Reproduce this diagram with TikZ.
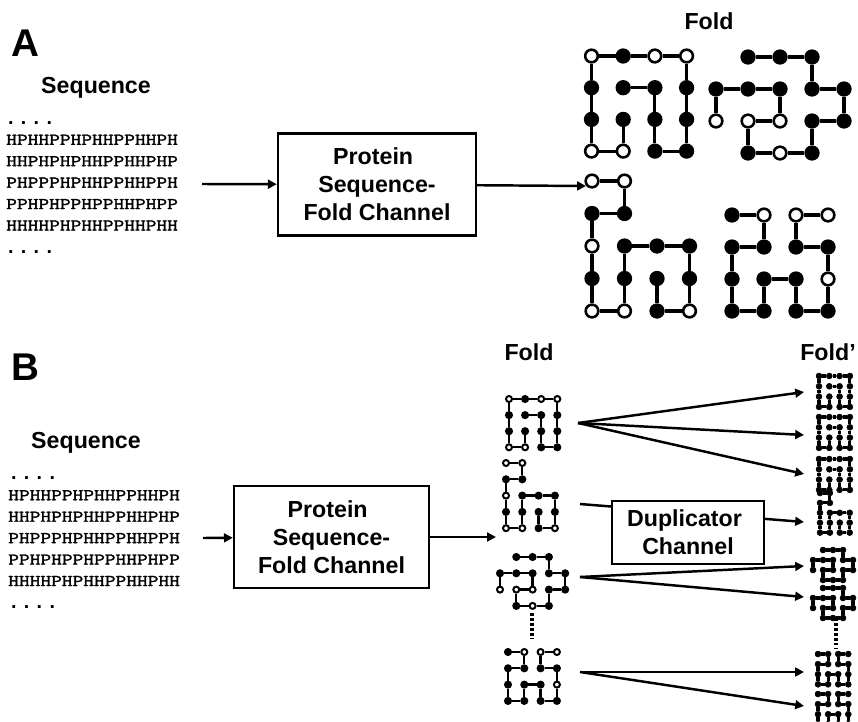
\documentclass[tikz,border=0pt]{standalone}
\usepackage{fontspec}
\setmainfont{Liberation Sans}
\setmonofont[FakeStretch=1.27, FakeBold=2]{Latin Modern Mono}
\usetikzlibrary{arrows.meta}

% one protein chain on the lattice: name, look, x, y, unit, bead list
\newcommand{\foldchain}[6]{
\begin{scope}[#2]
\foreach \gx/\gy/\kind [count=\i, remember=\i as \last (initially 0)] in #6 {
\node[\kind] (#1\i) at (#3+\gx*#5, #4+\gy*#5) {};
\ifnum\i>1
\draw[chainedge] (#1\last) -- (#1\i);
\fi
}
\end{scope}
}

\def\chainone{1/2/bk,1/3/wh,0/3/wh,0/2/bk,0/1/bk,0/0/wh,1/0/bk,2/0/wh,3/0/wh,3/1/bk,3/2/bk,3/3/bk,2/3/bk,2/2/bk,2/1/bk,1/1/bk}
\def\chaintwo{0/2/wh,0/1/bk,1/1/bk,2/1/bk,2/2/wh,1/2/wh,1/3/bk,2/3/wh,3/3/bk,3/2/bk,4/2/bk,4/1/bk,3/1/bk,3/0/bk,2/0/bk,1/0/bk}
\def\chainthree{0/0/wh,1/0/wh,1/1/bk,0/1/bk,0/2/wh,0/3/bk,0/4/wh,1/4/wh,1/3/bk,1/2/bk,2/2/bk,3/2/bk,3/3/bk,3/4/wh,2/4/bk,2/3/bk}
\def\chainfour{0/0/bk,1/0/wh,1/1/bk,0/1/bk,0/2/bk,0/3/bk,1/3/bk,1/2/bk,2/2/bk,2/3/bk,3/3/bk,3/2/wh,3/1/bk,2/1/bk,2/0/wh,3/0/wh}

\begin{document}
\begin{tikzpicture}[x=0.03cm, y=-0.03cm, >={Triangle[length=7.5pt,width=7.5pt]},
bk/.style={circle, draw=black, fill=black, inner sep=0pt, beadsize},
wh/.style={circle, draw=black, fill=white, inner sep=0pt, beadsize},
bigfold/.style={chainedge/.style={line width=2.6pt}, beadsize/.style={minimum size=0.38cm, line width=2.2pt}},
midfold/.style={chainedge/.style={line width=2pt}, beadsize/.style={minimum size=0.18cm, line width=1.7pt}},
tinyfold/.style={chainedge/.style={line width=2.6pt}, wh/.style={bk}, beadsize/.style={minimum size=0.18cm, line width=0.4pt}},
panel/.style={font=\bfseries\fontsize{33}{38}\selectfont},
heading/.style={font=\bfseries\fontsize{19.8}{24}\selectfont},
channel/.style={draw=black, line width=2.1pt, fill=white, align=center, inner sep=0pt,
  font=\bfseries\fontsize{19.8}{24}\selectfont},
seqlines/.style={align=left, inner sep=0pt, anchor=north west,
  font=\ttfamily\fontsize{14}{18.3}\selectfont},
seqdots/.style={inner sep=0pt, anchor=base west, font=\bfseries\fontsize{16.8}{20}\selectfont},
flow/.style={->, black, line width=2.1pt},
chaindots/.style={black, line width=2.6pt, dash pattern=on 2.4pt off 1.8pt}]

\useasboundingbox (0,0) rectangle (858,722);

%% Panel A
\path
(25,43) node[panel](labelA) {A}
(96,88) node[heading](seqA) {Sequence}
(709,21) node[heading](foldA) {Fold}
(8,124) node[seqdots](dotsAtop) {. . . .}
(6,134.5) node[seqlines](linesA) {HPHHPPHPHHPPHHPH\\HHPHPHPHHPPHHPHP\\PHPPPHPHHPPHHPPH\\PPHPHPPHPPHHPHPP\\HHHHPHPHHPPHHPHH}
(8,253) node[seqdots](dotsAbot) {. . . .}
(377,184.5) node[channel, minimum width=5.94cm, minimum height=3.06cm](channelA) {Protein\kern6.5pt\\Sequence-\\Fold Channel};

\coordinate (inA) at (202,184);
\coordinate (outA) at (586,186);
\draw[flow] (inA) -- (channelA);
\draw[flow] (channelA) -- (outA);

\foldchain{aone}{bigfold}{591.5}{56}{31.7}{\chainone}
\foldchain{atwo}{bigfold}{716}{57}{32}{\chaintwo}
\foldchain{athree}{bigfold}{592}{181}{32.5}{\chainthree}
\foldchain{afour}{bigfold}{732}{215}{32}{\chainfour}

%% Panel B
\path
(25,367) node[panel](labelB) {B}
(86,443) node[heading](seqB) {Sequence}
(529,352) node[heading](foldB) {Fold}
(828,352) node[heading](foldprime) {Fold'}
(11,479) node[seqdots](dotsBtop) {. . . .}
(8,490) node[seqlines](linesB) {HPHHPPHPHHPPHHPH\\HHPHPHPHHPPHHPHP\\PHPPPHPHHPPHHPPH\\PPHPHPPHPPHHPHPP\\HHHHPHPHHPPHHPHH}
(11,608) node[seqdots](dotsBbot) {. . . .}
(331.5,537) node[channel, minimum width=5.85cm, minimum height=3.06cm](channelB) {Protein\kern6.5pt\\Sequence-\\Fold Channel};

\coordinate (inB) at (203,538);
\coordinate (outB) at (496,537);
\draw[flow] (inB) -- (channelB);
\draw[flow] (channelB) -- (outB);

\foldchain{bone}{midfold}{509}{399}{16.1}{\chainone}
\foldchain{bthree}{midfold}{506}{463}{16.3}{\chainthree}
\foldchain{btwo}{midfold}{500}{557}{16.3}{\chaintwo}
\foldchain{bfour}{midfold}{508}{652}{16.3}{\chainfour}

\coordinate (dotsLtop) at (532,613);
\coordinate (dotsLbot) at (532,639);
\draw[chaindots] (dotsLtop) -- (dotsLbot);

%% the duplicated folds
\foldchain{cone}{tinyfold}{819}{376}{10.3}{\chainone}
\foldchain{cdup}{tinyfold}{819}{417}{10.3}{\chainone}
\foldchain{ctri}{tinyfold}{819}{459}{10.3}{\chainone}
\foldchain{cthree}{tinyfold}{820}{493}{9.9}{\chainthree}
\foldchain{ctwo}{tinyfold}{813}{550}{10}{\chaintwo}
\foldchain{csix}{tinyfold}{813}{588}{10}{\chaintwo}
\foldchain{cfour}{tinyfold}{818}{654}{10.1}{\chainfour}
\foldchain{cseven}{tinyfold}{818}{694}{10.1}{\chainfour}

\coordinate (dotsRtop) at (836,618);
\coordinate (dotsRbot) at (836,648);
\draw[chaindots] (dotsRtop) -- (dotsRbot);

%% Arrows fanning out to the copies
\coordinate (fanone) at (578,423);
\coordinate (fantwo) at (580,504);
\coordinate (fanthree) at (580,577);
\coordinate (fanfour) at (580,672);
\coordinate (toone) at (804,392);
\coordinate (totwo) at (804,435);
\coordinate (tothree) at (804,474);
\coordinate (tofour) at (804,522);
\coordinate (tofive) at (804,566);
\coordinate (tosix) at (804,597);
\coordinate (toseven) at (804,672);
\coordinate (toeight) at (804,706);
\draw[flow] (fanone) -- (toone);
\draw[flow] (fanone) -- (totwo);
\draw[flow] (fanone) -- (tothree);
\draw[flow] (fantwo) -- (tofour);
\draw[flow] (fanthree) -- (tofive);
\draw[flow] (fanthree) -- (tosix);
\draw[flow] (fanfour) -- (toseven);
\draw[flow] (fanfour) -- (toeight);

\path (688,532.5) node[channel, minimum width=4.56cm, minimum height=1.89cm](duplicator) {Duplicator\kern6pt\\Channel};

\end{tikzpicture}
\end{document}
